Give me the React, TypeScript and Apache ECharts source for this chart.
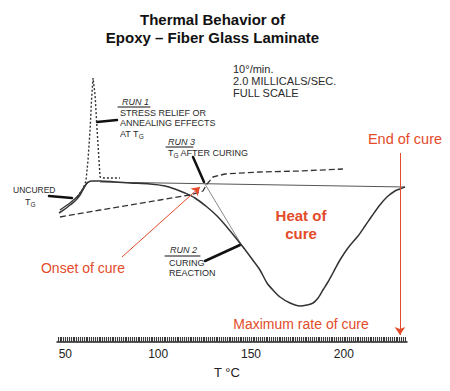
import React, { useEffect, useRef } from "react";
import * as echarts from "echarts";

// Temperature axis labels (°C)
const tempTicks = [50, 100, 150, 200];

// Run 2 – curing reaction (solid), [T °C, relative heat flow]
const run2Curing = [
  [46.6, 129], [49.8, 133], [52.5, 137], [55.2, 141], [57.9, 147], [60.0, 154],
  [61.7, 159], [64.3, 161], [68.7, 161], [76.7, 160], [84.8, 159], [95.6, 158],
  [103.7, 156], [109.0, 153], [114.4, 149], [119.8, 144], [126.3, 135], [131.7, 126],
  [137.0, 115], [141.4, 105], [145.7, 95], [150.5, 83], [154.8, 72], [158.6, 59],
  [161.8, 52], [165.6, 45], [171.0, 39], [176.4, 36], [180.1, 37], [183.4, 39],
  [186.1, 44], [188.7, 52], [191.4, 60], [194.1, 69], [197.9, 82], [202.2, 94],
  [207.6, 106], [211.4, 116], [215.1, 126], [219.4, 137], [223.2, 145], [227.5, 151],
  [230.2, 153], [232.9, 155],
];

// Run 1 – uncured Tg step (solid)
const run1Step = [[47.1, 132], [52.5, 139], [56.8, 146], [60.0, 155], [62.2, 160]];

// Run 1 – stress relief / annealing peak (dotted)
const run1Peak = [
  [56.3, 145], [59.5, 153], [61.1, 161], [62.2, 182], [63.3, 212], [64.1, 242],
  [64.9, 264], [66.0, 247], [67.0, 215], [68.1, 182], [68.7, 165], [70.8, 164], [79.4, 164],
];

// Run 3 – Tg after curing (dashed)
const run3AfterCure = [
  [47.1, 125], [68.7, 132], [84.8, 137], [101.0, 142], [117.1, 147], [124.1, 151],
  [126.3, 158], [129.5, 165], [136.0, 168], [154.8, 170], [176.4, 171], [199.5, 173],
];

// Baseline of the exotherm
const baseline = [[68.7, 160], [232.9, 155]];

// Onset tangent
const onsetTangent = [[125.2, 158], [146.2, 93]];

// Arrows (data coordinates)
const onsetArrow = [[80.5, 85], [122.5, 155]];
const endArrow = [[230.2, 189], [230.2, 7]];

const RED = "#e34b2a";
const INK = "#2a2a2a";
const FONT = "Liberation Sans, Arial, sans-serif";

function txt(text: string, x: number, y: number, size: number, opts: any = {}) {
  return {
    type: "text",
    x,
    y,
    silent: true,
    style: {
      text,
      fill: opts.fill || INK,
      font: `${opts.italic ? "italic " : ""}${opts.bold ? "bold " : ""}${size}px ${FONT}`,
      align: opts.align || "left",
      verticalAlign: "middle",
      rich: opts.rich,
    },
  };
}

const subRich = { g: { fontSize: 6.5, fontFamily: FONT, fill: INK, padding: [5, 0, 0, 0] } };

function leader(x1: number, y1: number, x2: number, y2: number, w = 2.5) {
  return {
    type: "line",
    silent: true,
    shape: { x1, y1, x2, y2 },
    style: { stroke: "#111", lineWidth: w, lineCap: "round" },
  };
}

export default function App() {
  const ref = useRef<HTMLDivElement>(null);
  useEffect(() => {
    if (!ref.current) return;
    const chart = echarts.init(ref.current, undefined, { renderer: "svg" });
    const rulerTicks: number[] = [];
    for (let t = 46; t <= 233; t += 1) rulerTicks.push(t);

    const lineSeries = (name: string, data: number[][], style: any, smooth: any = false) => ({
      name,
      type: "line",
      data,
      showSymbol: false,
      symbol: "none",
      smooth,
      silent: true,
      lineStyle: style,
      z: 3,
    });

    chart.setOption({
      animation: false,
      textStyle: { fontFamily: FONT },
      grid: { left: 57, right: 43, top: 60, bottom: 49 },
      xAxis: {
        type: "value",
        min: 45.5,
        max: 234,
        splitLine: { show: false },
        axisLine: { show: true, lineStyle: { color: "#222", width: 1.5 } },
        axisTick: {
          show: true,
          inside: true,
          length: 5,
          customValues: rulerTicks,
          lineStyle: { color: "#3a3a3a", width: 1.1 },
        },
        axisLabel: {
          customValues: tempTicks,
          fontSize: 12,
          color: "#222",
          margin: 6,
          fontFamily: FONT,
        },
      },
      yAxis: { type: "value", min: 0, max: 282, show: false },
      series: [
        lineSeries("Baseline", baseline, { color: "#555", width: 1 }),
        lineSeries("Onset tangent", onsetTangent, { color: "#8a8a8a", width: 1 }),
        lineSeries("Run 3", run3AfterCure, { color: "#333", width: 1.3, type: [6, 3] }),
        lineSeries("Run 1 peak", run1Peak, { color: "#333", width: 1.4, type: [2, 2] }),
        lineSeries("Run 1", run1Step, { color: "#333", width: 1.3 }),
        {
          ...lineSeries("Run 2", run2Curing, { color: "#333", width: 1.5 }, 0.3),
          markLine: {
            silent: true,
            symbol: ["none", "arrow"],
            symbolSize: 8,
            label: { show: false },
            lineStyle: { color: RED, width: 1, type: "solid" },
            data: [
              [{ coord: onsetArrow[0] }, { coord: onsetArrow[1] }],
              [{ coord: endArrow[0] }, { coord: endArrow[1] }],
            ],
          },
        },
      ],
      graphic: [
        txt("Thermal Behavior of", 212.5, 19, 15, { bold: true, align: "center", fill: "#111" }),
        txt("Epoxy – Fiber Glass Laminate", 212.5, 37, 15, { bold: true, align: "center", fill: "#111" }),
        txt("10°/min.", 233, 68.5, 11),
        txt("2.0 MILLICALS/SEC.", 233, 81, 11),
        txt("FULL SCALE", 233, 93, 11),
        txt("RUN 1", 122, 102, 9, { italic: true }),
        leader(118, 107, 150, 107, 1),
        txt("STRESS RELIEF OR", 120, 113, 9),
        txt("ANNEALING EFFECTS", 120, 123, 9),
        txt("AT T{g|G}", 120, 134, 9, { rich: subRich }),
        leader(97, 122, 117, 120),
        txt("RUN 3", 168, 142, 9, { italic: true }),
        leader(166, 147, 193, 147, 1),
        txt("T{g|G} AFTER CURING", 168, 153, 9, { rich: subRich }),
        leader(193, 157, 204, 182),
        txt("UNCURED", 13, 190, 8.5),
        txt("T{g|G}", 25, 202, 9, { rich: subRich }),
        leader(49, 196, 72, 198),
        txt("RUN 2", 170, 250, 9, { italic: true }),
        leader(165, 256, 200, 256, 1),
        txt("CURING", 169, 263, 9),
        txt("REACTION", 169, 273, 9),
        leader(205, 261, 240, 245),
        txt("Onset of cure", 83, 268, 14, { align: "center", fill: RED }),
        txt("Heat of", 301, 215, 15, { bold: true, align: "center", fill: RED }),
        txt("cure", 301, 233, 15, { bold: true, align: "center", fill: RED }),
        txt("End of cure", 405, 139, 14.5, { align: "center", fill: RED }),
        txt("Maximum rate of cure", 301, 324, 14, { align: "center", fill: RED }),
        txt("T °C", 227, 372, 13, { align: "center", fill: "#222" }),
      ],
    });
    return () => chart.dispose();
  }, []);
  return <div ref={ref} style={{ width: 450, height: 391, position: "absolute", left: 0, top: 0 }} />;
}
